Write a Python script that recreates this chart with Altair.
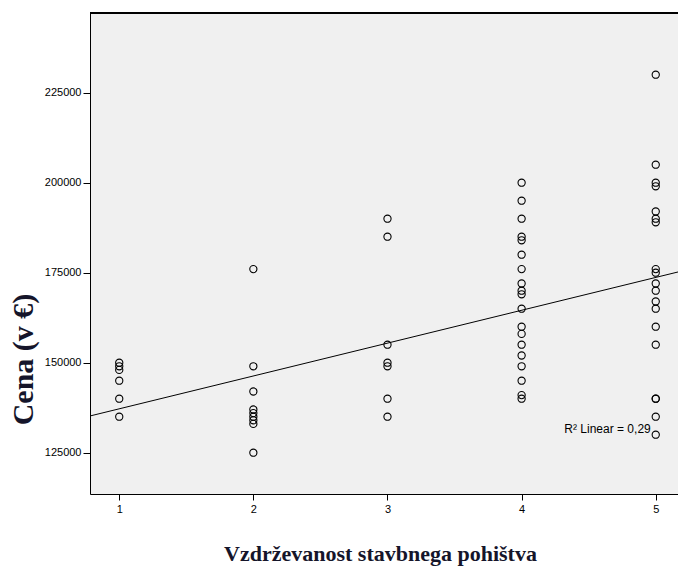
import altair as alt
import pandas as pd

# Scatter values
x_vals = ([1] * 6 + [2] * 9 + [3] * 7 + [4] * 19 + [5] * 19)
y_vals = (
    [150000, 149000, 148000, 145000, 140000, 135000]
    + [176000, 149000, 142000, 137000, 136000, 135000, 134000, 133000, 125000]
    + [190000, 185000, 155000, 150000, 149000, 140000, 135000]
    + [200000, 195000, 190000, 185000, 184000, 180000, 176000, 172000, 170000, 169000,
       165000, 160000, 158000, 155000, 152000, 149000, 145000, 141000, 140000]
    + [230000, 205000, 200000, 199000, 192000, 190000, 189000, 176000, 175000, 172000,
       170000, 167000, 165000, 160000, 155000, 140000, 140000, 135000, 130000]
)

# Fit line end points
fit_x = [0.782, 5.166]
fit_y = [135200, 175200]

# Annotation
ann_x = [5]
ann_y = [130500]
ann_text = ["R\u00b2 Linear = 0,29"]

x_ticks = [1, 2, 3, 4, 5]
y_ticks = [125000, 150000, 175000, 200000, 225000]

x_domain = [0.782, 5.166]
y_domain = [113528, 247139]

pts = pd.DataFrame({"x": x_vals, "y": y_vals})
fit = pd.DataFrame({"x": fit_x, "y": fit_y})
ann = pd.DataFrame({"x": ann_x, "y": ann_y, "t": ann_text})

W, H = 588, 481

xs = alt.Scale(domain=x_domain, nice=False, zero=False)
ys = alt.Scale(domain=y_domain, nice=False, zero=False)

x_axis = alt.Axis(
    values=x_ticks, format="d", grid=False, domainColor="black", tickColor="black",
    labelColor="black", labelFont="Liberation Sans", labelFontSize=11, tickSize=6,
    labelPadding=3,
    title="Vzdrževanost stavbnega pohištva", titleFont="Liberation Serif",
    titleFontWeight="bold", titleFontSize=22, titleColor="#15152a",
    titleBaseline="alphabetic", titleY=66, titleX=W / 2 - 4,
)
y_axis = alt.Axis(
    values=y_ticks, format="d", grid=False, domainColor="black", tickColor="black",
    labelColor="black", labelFont="Liberation Sans", labelFontSize=11, tickSize=7,
    labelPadding=2,
    title="Cena (v €)", titleFont="Liberation Serif", titleFontWeight="bold",
    titleFontSize=30, titleColor="#15152a", titleAngle=270, titleAlign="center",
    titleBaseline="middle", titleX=-67, titleY=346,
)

points = alt.Chart(pts).mark_point(
    shape="circle", filled=False, size=52, stroke="black", strokeWidth=1.1, opacity=1
).encode(
    x=alt.X("x:Q", scale=xs, axis=x_axis),
    y=alt.Y("y:Q", scale=ys, axis=y_axis),
)

line = alt.Chart(fit).mark_line(color="black", strokeWidth=1, clip=True).encode(
    x=alt.X("x:Q", scale=xs), y=alt.Y("y:Q", scale=ys)
)

text = alt.Chart(ann).mark_text(
    align="right", baseline="alphabetic", dx=-5, font="Liberation Sans",
    fontSize=12, color="black"
).encode(x=alt.X("x:Q", scale=xs), y=alt.Y("y:Q", scale=ys), text="t:N")

top_border = alt.Chart(pts).mark_rule(color="black", strokeWidth=1).encode(
    x=alt.value(0), x2=alt.value(W), y=alt.value(0)
)

chart = alt.layer(points, line, text, top_border).properties(
    width=W, height=H,
    autosize=alt.AutoSizeParams(type="none"),
    padding={"left": 90, "top": 13, "right": 0, "bottom": 73},
    background="white",
).configure_view(fill="#f0f0f0", stroke=None)

chart.save("out.html", embed_options={"renderer": "svg", "actions": False})
